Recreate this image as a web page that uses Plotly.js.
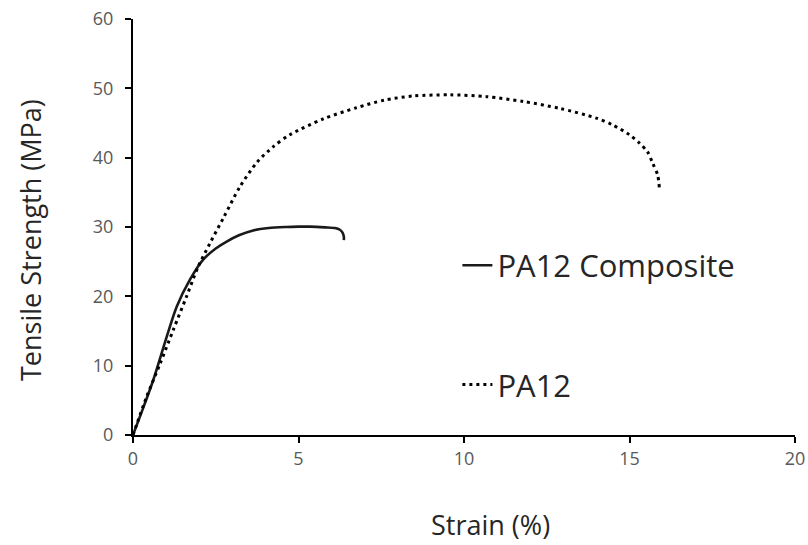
<!DOCTYPE html>
<html>
<head>
<meta charset="utf-8">
<script src="https://cdn.plot.ly/plotly-3.0.1.min.js"></script>
<style>html,body{margin:0;padding:0;background:#fff;}#chart{width:808px;height:545px;}</style>
</head>
<body>
<div id="chart"></div>
<script>
const compositeStrain = [0, 0.3, 0.61, 1.02, 1.32, 1.72, 2.12, 2.5, 2.83, 3.2, 3.63, 4.1, 4.63, 5.0, 5.35, 5.8, 6.1, 6.25, 6.33, 6.37, 6.37];
const compositeStress = [0, 3.8, 7.9, 14.2, 18.5, 22.4, 25.3, 26.9, 27.9, 28.8, 29.5, 29.85, 30.0, 30.05, 30.05, 29.95, 29.85, 29.6, 29.2, 28.6, 28.1];
const pa12Strain = [0, 0.41, 0.82, 1.22, 1.62, 1.97, 2.33, 2.73, 3.23, 3.74, 4.24, 4.74, 5.75, 6.75, 7.6, 8.47, 9.58, 10.68, 11.79, 12.9, 14.0, 14.5, 15.0, 15.3, 15.55, 15.7, 15.85, 15.9];
const pa12Stress = [0, 5.5, 10.3, 15.2, 20.0, 24.3, 27.7, 31.3, 35.8, 39.3, 41.6, 43.3, 45.6, 47.2, 48.3, 48.9, 49.06, 48.8, 48.1, 47.1, 45.7, 44.7, 43.3, 42.1, 40.8, 39.2, 37.5, 35.7];
const seriesNames = ["PA12 Composite", "PA12"];
const xTicks = [0, 5, 10, 15, 20];
const yTicks = [0, 10, 20, 30, 40, 50, 60];
const xTitle = "Strain (%)";
const yTitle = "Tensile Strength (MPa)";

const font = "Open Sans, Noto Sans, sans-serif";
const traces = [
  {x: compositeStrain, y: compositeStress, name: seriesNames[0], mode: "lines", legendgroup: "a",
   line: {color: "#1a1a1a", width: 2.6, shape: "spline", smoothing: 0.8}},
  {x: pa12Strain, y: pa12Stress, name: seriesNames[1], mode: "lines", legendgroup: "b",
   line: {color: "#000", width: 3, dash: "3px,4px", shape: "spline", smoothing: 0.8}}
];
const layout = {
  width: 808, height: 545,
  margin: {l: 133, r: 13, t: 19, b: 110},
  paper_bgcolor: "#fff", plot_bgcolor: "#fff",
  font: {family: font, color: "#595959"},
  showlegend: true,
  legend: {x: 0.49, y: 0.472, xanchor: "left", yanchor: "top", tracegroupgap: 76,
    traceorder: "grouped", font: {size: 31, color: "#262626", family: font},
    itemwidth: 30, bgcolor: "rgba(0,0,0,0)"},
  xaxis: {range: [0, 20], tickvals: xTicks, ticktext: xTicks.map(String), showgrid: false, zeroline: false,
    showline: true, linecolor: "#000", linewidth: 2, ticks: "outside", ticklen: 6, tickwidth: 2, tickcolor: "#000",
    tickfont: {size: 18, color: "#595959"}},
  yaxis: {range: [0, 60], tickvals: yTicks, ticktext: yTicks.map(String), showgrid: false, zeroline: false,
    showline: true, linecolor: "#000", linewidth: 2, ticks: "outside", ticklen: 6, tickwidth: 2, tickcolor: "#000",
    ticklabelstandoff: 8,
    tickfont: {size: 18, color: "#595959"}},
  annotations: [
    {text: xTitle, xref: "paper", yref: "paper", x: (490 - 133) / 662, y: -(524 - 435) / 416,
     xanchor: "center", yanchor: "middle", showarrow: false, font: {size: 27, color: "#262626", family: font}},
    {text: yTitle, xref: "paper", yref: "paper", x: -(133 - 30) / 662, y: (435 - 240) / 416, textangle: -90,
     xanchor: "center", yanchor: "middle", showarrow: false, font: {size: 27, color: "#262626", family: font}}
  ]
};
Plotly.newPlot("chart", traces, layout, {staticPlot: true});
</script>
</body>
</html>
